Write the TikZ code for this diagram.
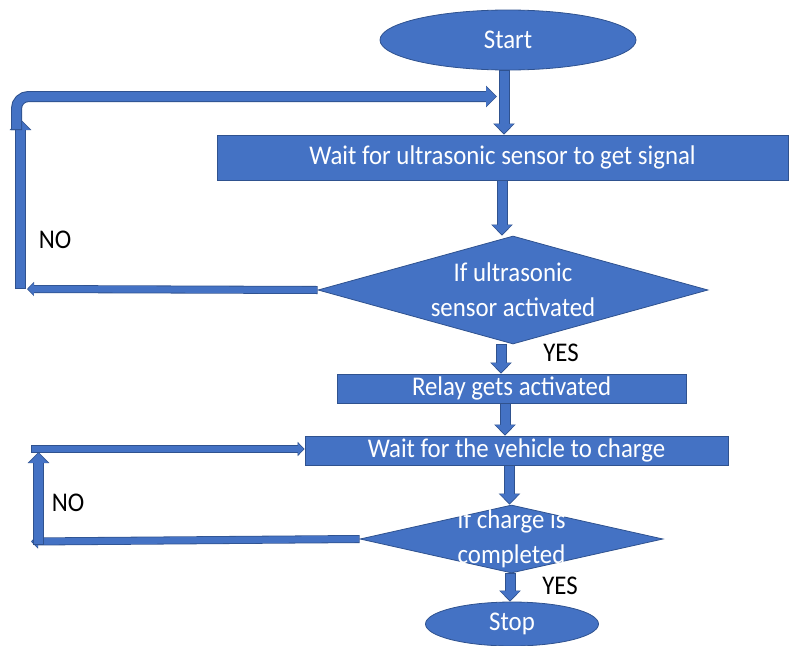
\documentclass[tikz,border=0pt]{standalone}
\usepackage{fontspec}
\setmainfont{Carlito}[FakeStretch=0.92]
\usetikzlibrary{shapes.geometric,arrows.meta}
\definecolor{boxblue}{HTML}{4472C4}
\definecolor{edgeblue}{HTML}{2F528F}
\begin{document}
\begin{tikzpicture}[x=1pt,y=-1pt,
    font=\fontsize{27}{35}\selectfont,
    box/.style={draw=edgeblue, fill=boxblue, line width=0.8pt, text=white, inner sep=0pt},
    term/.style={box, ellipse},
    proc/.style={box, rectangle},
    test/.style={box, diamond},
    inside/.style={text=white, align=center},
    flow/.style={draw=edgeblue, line width=11pt, -{Triangle[length=11pt,width=21pt]},
        postaction={draw=boxblue, line width=9pt, -{Triangle[length=9.6pt,width=18.5pt]},
        shorten >=1.2pt, shorten <=0.8pt}},
    thinflow/.style={draw=edgeblue, line width=8pt, -{Triangle[length=7pt,width=14pt]},
        postaction={draw=boxblue, line width=6.4pt, -{Triangle[length=5.8pt,width=11.5pt]},
        shorten >=1pt, shorten <=0.8pt}}
]
\useasboundingbox (0,0) rectangle (794,645);

% shapes
\node[term, minimum width=256pt, minimum height=60pt] (start) at (508,40) {Start};
\node[proc, minimum width=571pt, minimum height=45pt] (wait) at (502.5,157.5)
    {Wait for ultrasonic sensor to get signal};
\node[test, minimum width=390pt, minimum height=108pt,
    label={[inside]center:If ultrasonic\\sensor activated}] (sense) at (513,290) {};
\node[proc, minimum width=349pt, minimum height=29pt] (relay) at (511.5,388.5)
    {Relay gets activated};
\node[proc, minimum width=423pt, minimum height=29pt] (charge) at (516.5,450.5)
    {Wait for the vehicle to charge};
\node[test, minimum width=303pt, minimum height=68pt,
    label={[inside]center:If charge is\\completed}] (done) at (511.5,539) {};
\node[term, minimum width=173pt, minimum height=44pt] (stop) at (512,624) {Stop};

% labels
\node (no1) at (55,240) {NO};
\node (yes1) at (561,353) {YES};
\node (no2) at (68,503) {NO};
\node (yes2) at (560,586) {YES};

% loop points
\coordinate (n1a) at (27,289);
\coordinate (n1b) at (20.5,289);
\coordinate (n1c) at (20.5,119);
\coordinate (n1d) at (16.5,130);
\coordinate (n1e) at (497,96.5);
\coordinate (n2a) at (31,541.5);
\coordinate (n2b) at (38.5,545);
\coordinate (n2c) at (38.5,452);
\coordinate (n2d) at (31,449);

% main flow
\draw[flow] (504,0 |- start.south) -- (504,0 |- wait.north);
\draw[flow] (502,0 |- wait.south) -- (502,0 |- sense.north);
\draw[flow] (501,0 |- sense.south) -- (501,0 |- relay.north);
\draw[flow] (505,0 |- relay.south) -- (505,0 |- charge.north);
\draw[flow] (509.5,0 |- charge.south) -- (509.5,0 |- done.north);
\draw[flow] (510,0 |- done.south) -- (510,0 |- stop.north);

% NO loops
\draw[thinflow] (sense.west) -- (n1a);
\draw[flow] (n1b) -- (n1c);
\draw[flow, rounded corners=12pt] (n1d) |- (n1e);
\draw[thinflow] (done.west) -- (n2a);
\draw[flow] (n2b) -- (n2c);
\draw[thinflow] (n2d) -- (n2d -| charge.west);
\end{tikzpicture}
\end{document}
